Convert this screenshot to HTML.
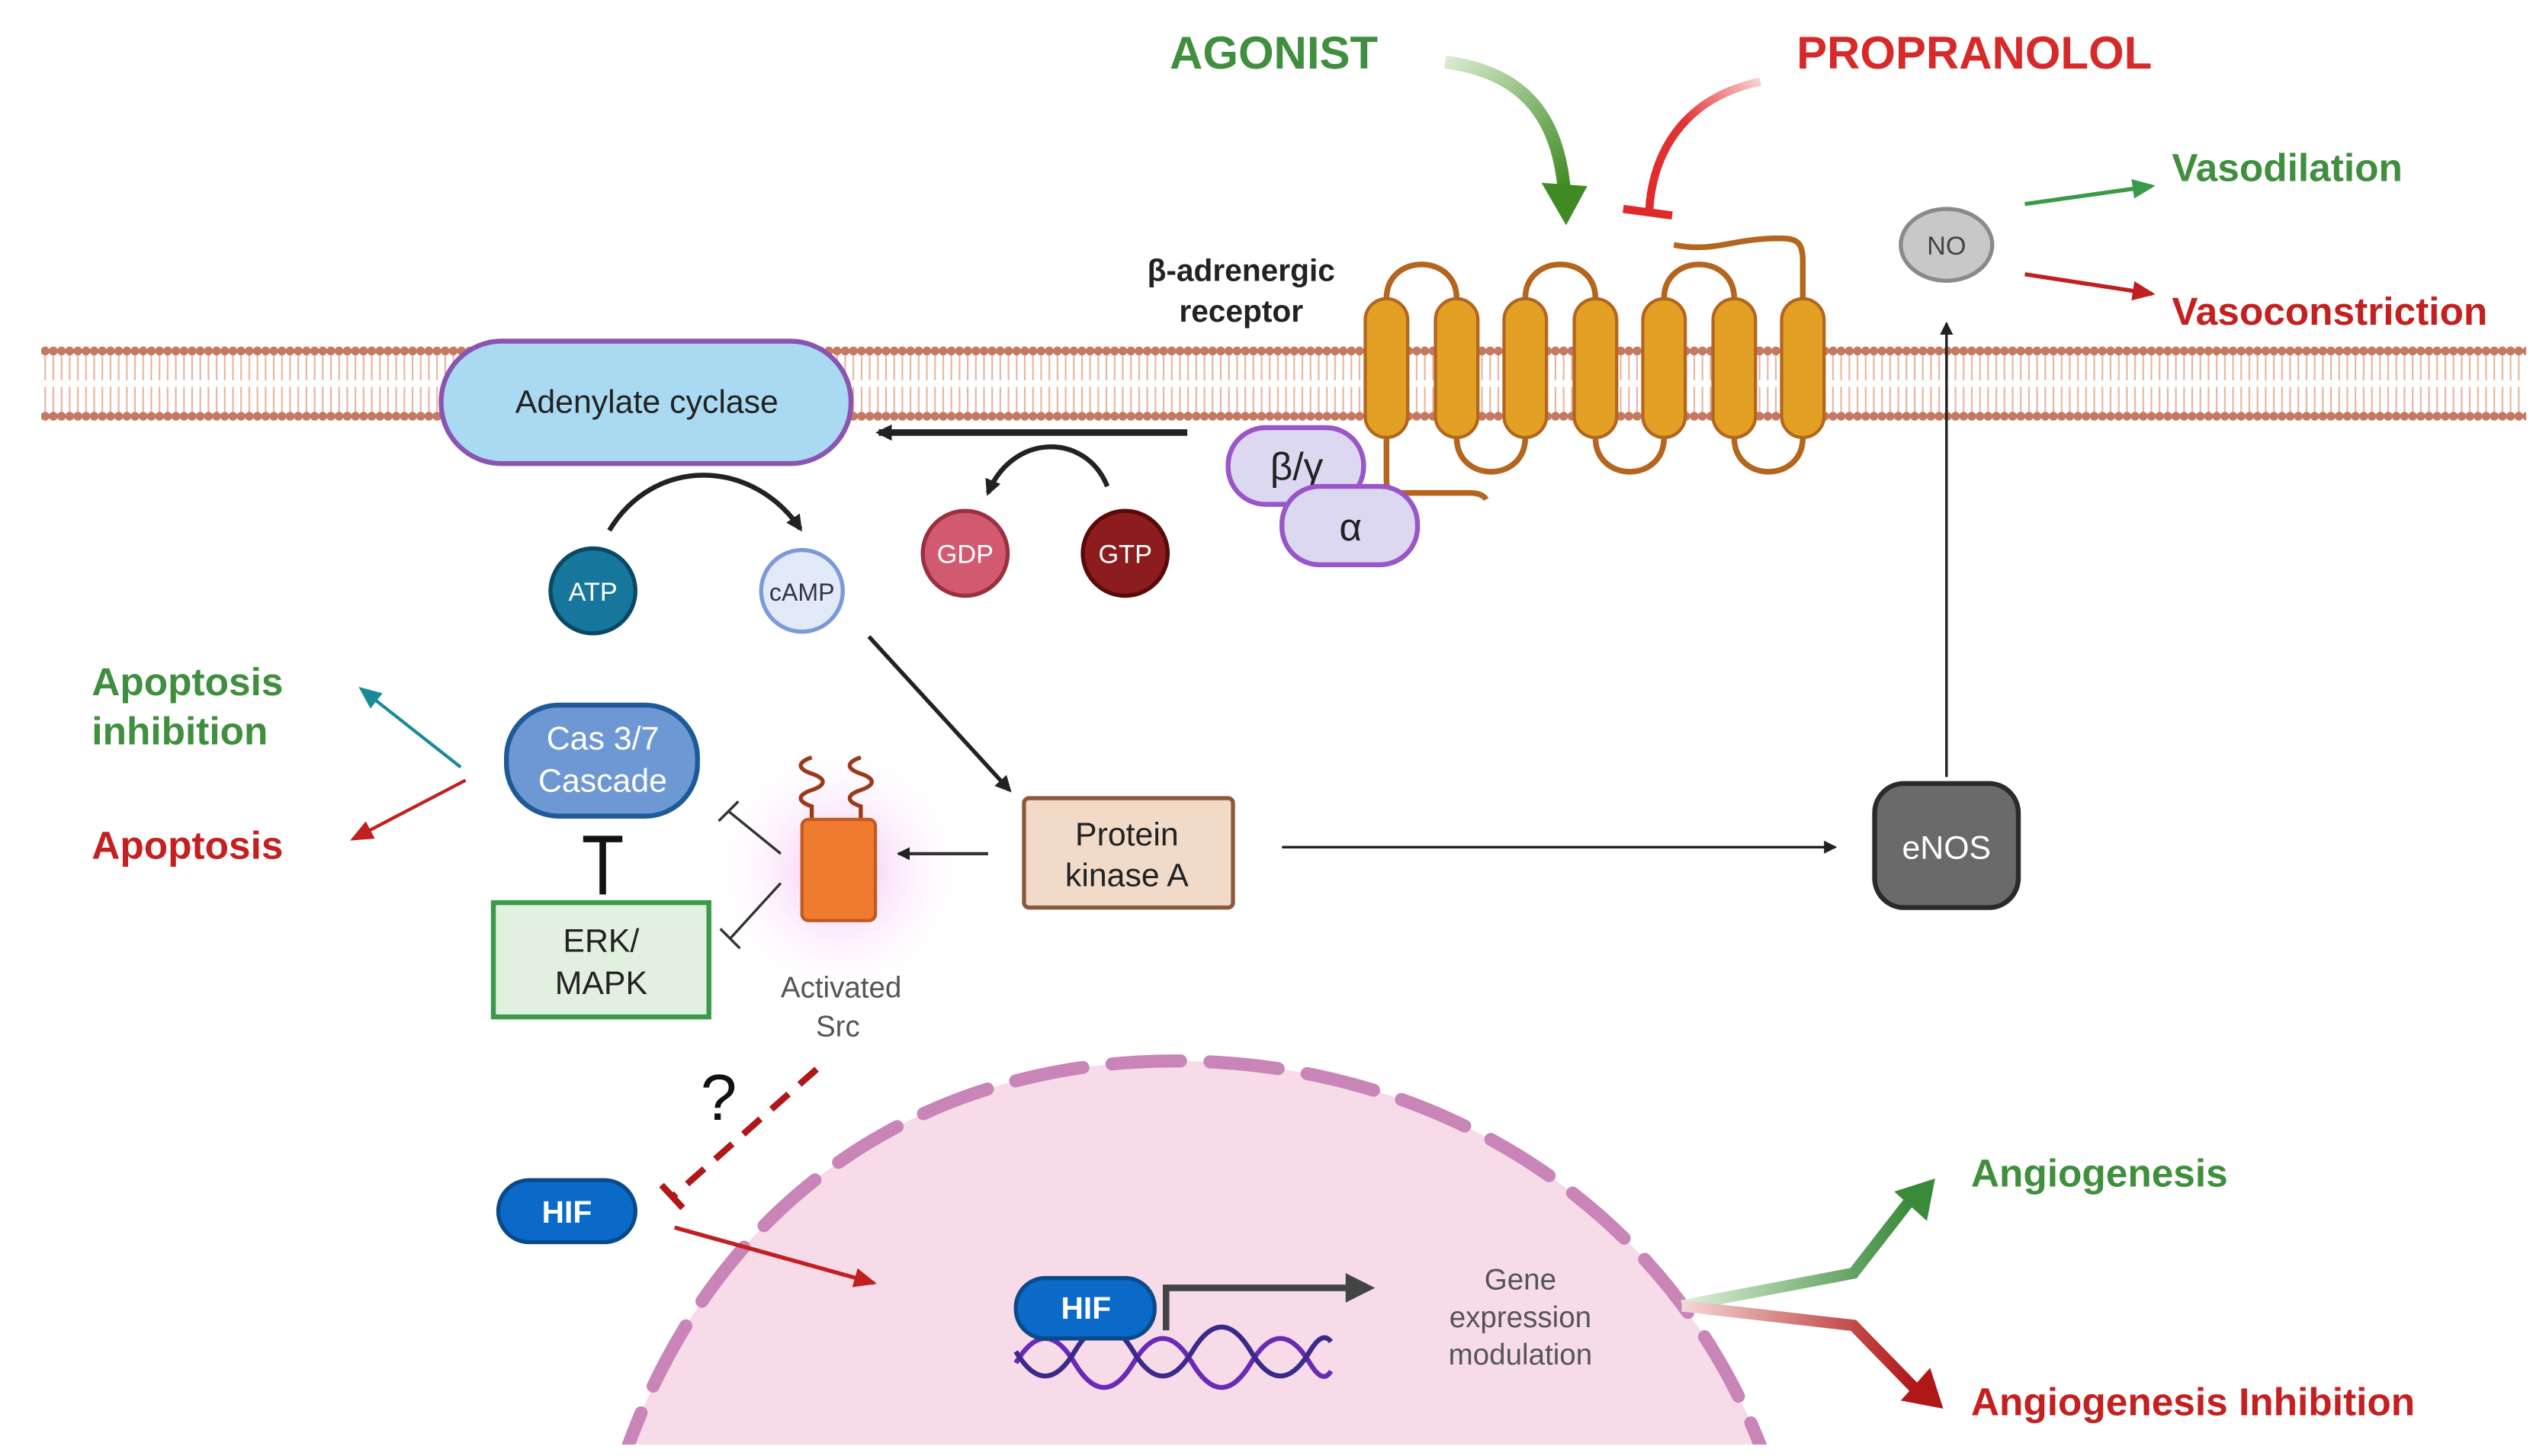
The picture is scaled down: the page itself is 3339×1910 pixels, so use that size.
<!DOCTYPE html>
<html><head><meta charset="utf-8"><style>
html,body{margin:0;padding:0;background:#fff;}
svg{display:block;}
text{font-family:"Liberation Sans",sans-serif;}
</style></head><body>
<svg width="3339" height="1910" viewBox="0 0 1559 892" xmlns="http://www.w3.org/2000/svg">
<defs>
<pattern id="mem" x="25" y="0" width="5" height="892" patternUnits="userSpaceOnUse">
<line x1="2.5" y1="215" x2="2.5" y2="233" stroke="#e8b4a2" stroke-width="1"/>
<line x1="2.5" y1="237" x2="2.5" y2="255" stroke="#e8b4a2" stroke-width="1"/>
<circle cx="2.5" cy="215" r="2.7" fill="#c47a62"/>
<circle cx="2.5" cy="255" r="2.7" fill="#c47a62"/>
</pattern>
<linearGradient id="gA" x1="0" y1="0" x2="1" y2="1"><stop offset="0" stop-color="#d8ecd0"/><stop offset="1" stop-color="#3f8a22"/></linearGradient>
<linearGradient id="rP" x1="1" y1="0" x2="0" y2="1"><stop offset="0" stop-color="#fbd0d0"/><stop offset="0.5" stop-color="#e03434"/><stop offset="1" stop-color="#e02a2a"/></linearGradient>
<linearGradient id="gAng" x1="0" y1="0" x2="1" y2="0"><stop offset="0" stop-color="#e0f0dc"/><stop offset="1" stop-color="#3a8a3a"/></linearGradient>
<linearGradient id="rAng" x1="0" y1="0" x2="1" y2="0"><stop offset="0" stop-color="#f4d8d8"/><stop offset="1" stop-color="#b01818"/></linearGradient>
<radialGradient id="glow"><stop offset="0" stop-color="#f0a0f0" stop-opacity="0.7"/><stop offset="1" stop-color="#fff" stop-opacity="0"/></radialGradient>
<marker id="ah" markerWidth="10" markerHeight="10" refX="8" refY="5" orient="auto" markerUnits="userSpaceOnUse"><path d="M0,0 L10,5 L0,10 z" fill="#222"/></marker>
<marker id="ahs" markerWidth="8" markerHeight="8" refX="7" refY="4" orient="auto" markerUnits="userSpaceOnUse"><path d="M0,0 L8,4 L0,8 z" fill="#222"/></marker>
<marker id="ahg" markerWidth="14" markerHeight="12" refX="12" refY="6" orient="auto" markerUnits="userSpaceOnUse"><path d="M0,0 L14,6 L0,12 z" fill="#3a9a4a"/></marker>
<marker id="ahr" markerWidth="14" markerHeight="12" refX="12" refY="6" orient="auto" markerUnits="userSpaceOnUse"><path d="M0,0 L14,6 L0,12 z" fill="#c02020"/></marker>
<marker id="aht" markerWidth="14" markerHeight="12" refX="12" refY="6" orient="auto" markerUnits="userSpaceOnUse"><path d="M0,0 L14,6 L0,12 z" fill="#1a8a9a"/></marker>
<clipPath id="nucClip"><rect x="0" y="0" width="1559" height="885"/></clipPath>
</defs>

<g clip-path="url(#nucClip)">
<path d="M378,905 C430,740 560,650 720,650 C880,650 1030,740 1085,905 Z" fill="#f8dbe9"/>
<path d="M378,905 C430,740 560,650 720,650 C880,650 1030,740 1085,905" fill="none" stroke="#c985b8" stroke-width="8" stroke-dasharray="42,18" stroke-linecap="round"/>
</g>

<rect x="25" y="205" width="1522" height="58" fill="url(#mem)"/>

<text x="780" y="42" font-size="28" font-weight="bold" fill="#3f8f3f" text-anchor="middle">AGONIST</text>
<text x="1209" y="42" font-size="28" font-weight="bold" fill="#d62a2a" text-anchor="middle">PROPRANOLOL</text>
<path d="M885,38 C940,45 955,80 958,118" fill="none" stroke="url(#gA)" stroke-width="8"/>
<path d="M944,112 L972,114 L959,138 Z" fill="#3f8a22"/>
<path d="M1078,50 C1030,60 1012,95 1010,128" fill="none" stroke="url(#rP)" stroke-width="5"/>
<line x1="994" y1="128" x2="1024" y2="132" stroke="#e02a2a" stroke-width="5"/>

<text x="760" y="172" font-size="19" font-weight="bold" fill="#222" text-anchor="middle">β-adrenergic</text>
<text x="760" y="197" font-size="19" font-weight="bold" fill="#222" text-anchor="middle">receptor</text>
<g fill="none" stroke="#b4651e" stroke-width="3.5">
<path d="M849,183 C849,155 892,155 892,183"/>
<path d="M934,183 C934,155 977,155 977,183"/>
<path d="M1019,183 C1019,155 1062,155 1062,183"/>
<path d="M892,268 C892,296 934,296 934,268"/>
<path d="M977,268 C977,296 1019,296 1019,268"/>
<path d="M1062,268 C1062,296 1104,296 1104,268"/>
<path d="M1104,183 L1104,160 C1104,148 1100,146 1090,146 C1060,146 1050,155 1025,150"/>
<path d="M849,268 L849,295 C849,300 852,302 860,302 L900,302 C906,302 909,304 910,306"/>
</g>
<g fill="#e2a024" stroke="#b4651e" stroke-width="2">
<rect x="836" y="183" width="26" height="85" rx="13"/>
<rect x="879" y="183" width="26" height="85" rx="13"/>
<rect x="921" y="183" width="26" height="85" rx="13"/>
<rect x="964" y="183" width="26" height="85" rx="13"/>
<rect x="1006" y="183" width="26" height="85" rx="13"/>
<rect x="1049" y="183" width="26" height="85" rx="13"/>
<rect x="1091" y="183" width="26" height="85" rx="13"/>
</g>

<rect x="752" y="262" width="83" height="47" rx="23" fill="#dcd8f2" stroke="#9a55c8" stroke-width="3"/>
<text x="794" y="294" font-size="24" fill="#222" text-anchor="middle">β/γ</text>
<rect x="785" y="298" width="83" height="48" rx="23" fill="#dcd8f2" stroke="#9a55c8" stroke-width="3"/>
<text x="827" y="331" font-size="24" fill="#222" text-anchor="middle">α</text>

<rect x="270" y="209" width="251" height="75" rx="37" fill="#a9daf2" stroke="#8a55b0" stroke-width="3"/>
<text x="396" y="253" font-size="20" fill="#222" text-anchor="middle">Adenylate cyclase</text>
<line x1="727" y1="265" x2="538" y2="265" stroke="#222" stroke-width="4" marker-end="url(#ah)"/>
<path d="M678,298 C665,265 620,265 605,302" fill="none" stroke="#222" stroke-width="3" marker-end="url(#ah)"/>

<path d="M373,325 C400,280 460,280 490,324" fill="none" stroke="#222" stroke-width="3" marker-end="url(#ah)"/>
<circle cx="363" cy="362" r="26" fill="#17769c" stroke="#0b4866" stroke-width="2.5"/>
<text x="363" y="368" font-size="16" fill="#fff" text-anchor="middle">ATP</text>
<circle cx="491" cy="362" r="25" fill="#e2eafa" stroke="#7a9ad8" stroke-width="2.5"/>
<text x="491" y="368" font-size="15" fill="#334" text-anchor="middle">cAMP</text>
<circle cx="591" cy="339" r="26" fill="#d25a70" stroke="#9a3040" stroke-width="2.5"/>
<text x="591" y="345" font-size="16" fill="#fff" text-anchor="middle">GDP</text>
<circle cx="689" cy="339" r="26" fill="#8c1c1e" stroke="#5a0a0a" stroke-width="2.5"/>
<text x="689" y="345" font-size="16" fill="#fff" text-anchor="middle">GTP</text>

<line x1="532" y1="390" x2="618" y2="484" stroke="#222" stroke-width="2.5" marker-end="url(#ah)"/>

<rect x="627" y="489" width="128" height="67" rx="3" fill="#f2dac8" stroke="#8a5a3a" stroke-width="2.5"/>
<text x="690" y="518" font-size="20" fill="#222" text-anchor="middle">Protein</text>
<text x="690" y="543" font-size="20" fill="#222" text-anchor="middle">kinase A</text>
<line x1="785" y1="519" x2="1124" y2="519" stroke="#222" stroke-width="1.6" marker-end="url(#ahs)"/>

<rect x="1148" y="480" width="88" height="76" rx="18" fill="#6a6a6a" stroke="#2a2a2a" stroke-width="3"/>
<text x="1192" y="526" font-size="20" fill="#fff" text-anchor="middle">eNOS</text>
<line x1="1192" y1="476" x2="1192" y2="198" stroke="#222" stroke-width="1.6" marker-end="url(#ahs)"/>
<ellipse cx="1192" cy="150" rx="28" ry="22" fill="#c8c8c8" stroke="#8a8a8a" stroke-width="2.5"/>
<text x="1192" y="156" font-size="16" fill="#444" text-anchor="middle">NO</text>
<line x1="1240" y1="125" x2="1318" y2="114" stroke="#3a9a4a" stroke-width="2.5" marker-end="url(#ahg)"/>
<line x1="1240" y1="168" x2="1318" y2="180" stroke="#c02020" stroke-width="2.5" marker-end="url(#ahr)"/>
<text x="1330" y="111" font-size="24" font-weight="bold" fill="#3f8f3f">Vasodilation</text>
<text x="1330" y="199" font-size="24" font-weight="bold" fill="#c42020">Vasoconstriction</text>

<circle cx="514" cy="533" r="80" fill="url(#glow)"/>
<g fill="none" stroke="#9a3a1a" stroke-width="2.5">
<path d="M497,502 L497,494 C488,491 488,487 497,484 C506,481 506,477 497,474 C488,471 488,467 497,464"/>
<path d="M527,502 L527,494 C518,491 518,487 527,484 C536,481 536,477 527,474 C518,471 518,467 527,464"/>
</g>
<rect x="491" y="502" width="45" height="62" rx="4" fill="#f07a30" stroke="#c05a20" stroke-width="2"/>
<text x="515" y="611" font-size="18" fill="#555" text-anchor="middle">Activated</text>
<text x="513" y="635" font-size="18" fill="#555" text-anchor="middle">Src</text>
<line x1="605" y1="523" x2="550" y2="523" stroke="#333" stroke-width="2" marker-end="url(#ahs)"/>
<g stroke="#333" stroke-width="1.6">
<line x1="478" y1="523" x2="446" y2="497"/><line x1="440" y1="503" x2="452" y2="491"/>
<line x1="478" y1="541" x2="447" y2="575"/><line x1="441" y1="569" x2="453" y2="581"/>
</g>

<rect x="310" y="432" width="117" height="68" rx="32" fill="#6e98d4" stroke="#1e5a98" stroke-width="3"/>
<text x="369" y="459" font-size="20" fill="#fff" text-anchor="middle">Cas 3/7</text>
<text x="369" y="485" font-size="20" fill="#fff" text-anchor="middle">Cascade</text>
<line x1="369" y1="548" x2="369" y2="514" stroke="#111" stroke-width="4"/>
<line x1="357" y1="514" x2="381" y2="514" stroke="#111" stroke-width="4"/>
<rect x="302" y="553" width="132" height="70" fill="#e2f0e0" stroke="#3a9a4a" stroke-width="3"/>
<text x="368" y="583" font-size="20" fill="#222" text-anchor="middle">ERK/</text>
<text x="368" y="609" font-size="20" fill="#222" text-anchor="middle">MAPK</text>
<line x1="282" y1="470" x2="221" y2="422" stroke="#1a8a9a" stroke-width="2" marker-end="url(#aht)"/>
<line x1="285" y1="478" x2="216" y2="514" stroke="#c02020" stroke-width="2" marker-end="url(#ahr)"/>
<text x="56" y="426" font-size="24" font-weight="bold" fill="#3f8f3f">Apoptosis</text>
<text x="56" y="456" font-size="24" font-weight="bold" fill="#3f8f3f">inhibition</text>
<text x="56" y="526" font-size="24" font-weight="bold" fill="#c42020">Apoptosis</text>

<text x="440" y="686" font-size="40" fill="#111" text-anchor="middle">?</text>
<line x1="500" y1="655" x2="412" y2="733" stroke="#b01818" stroke-width="4" stroke-dasharray="14,9"/>
<line x1="405" y1="726" x2="418" y2="740" stroke="#b01818" stroke-width="4"/>
<rect x="305" y="723" width="84" height="38" rx="19" fill="#0b6ac8" stroke="#0a4a8a" stroke-width="2.5"/>
<text x="347" y="749" font-size="19" font-weight="bold" fill="#fff" text-anchor="middle">HIF</text>
<line x1="413" y1="752" x2="535" y2="786" stroke="#c02020" stroke-width="2.5" marker-end="url(#ahr)"/>

<g fill="none" stroke-width="3">
<path d="M622,835 C634,815 646,815 658,835 C670,855 682,855 694,835 C706,815 718,815 730,835 C742,855 754,855 766,835 C778,815 790,815 802,835 C808,845 812,845 815,840" stroke="#6a2ab8"/>
<path d="M622,828 C634,848 646,848 658,828 C670,808 682,808 694,828 C706,848 718,848 730,828 C742,808 754,808 766,828 C778,848 790,848 802,828 C808,818 812,818 815,822" stroke="#3a2a8a"/>
</g>
<path d="M714,815 L714,789 L826,789" fill="none" stroke="#444" stroke-width="4"/>
<path d="M824,780 L842,789 L824,798 Z" fill="#444"/>
<rect x="622" y="783" width="85" height="37" rx="18" fill="#0b6ac8" stroke="#0a4a8a" stroke-width="2.5"/>
<text x="665" y="808" font-size="19" font-weight="bold" fill="#fff" text-anchor="middle">HIF</text>
<text x="931" y="790" font-size="18" fill="#555" text-anchor="middle">Gene</text>
<text x="931" y="813" font-size="18" fill="#555" text-anchor="middle">expression</text>
<text x="931" y="836" font-size="18" fill="#555" text-anchor="middle">modulation</text>

<path d="M1030,800 L1135,780 L1170,735" fill="none" stroke="url(#gAng)" stroke-width="7"/>
<path d="M1160,730 L1185,722 L1180,748 Z" fill="#3a8a3a"/>
<path d="M1030,800 L1135,812 L1172,850" fill="none" stroke="url(#rAng)" stroke-width="7"/>
<path d="M1164,858 L1190,863 L1182,838 Z" fill="#b01818"/>
<text x="1207" y="727" font-size="24" font-weight="bold" fill="#3f8f3f">Angiogenesis</text>
<text x="1207" y="867" font-size="24" font-weight="bold" fill="#c42020">Angiogenesis Inhibition</text>
</svg>
</body></html>
